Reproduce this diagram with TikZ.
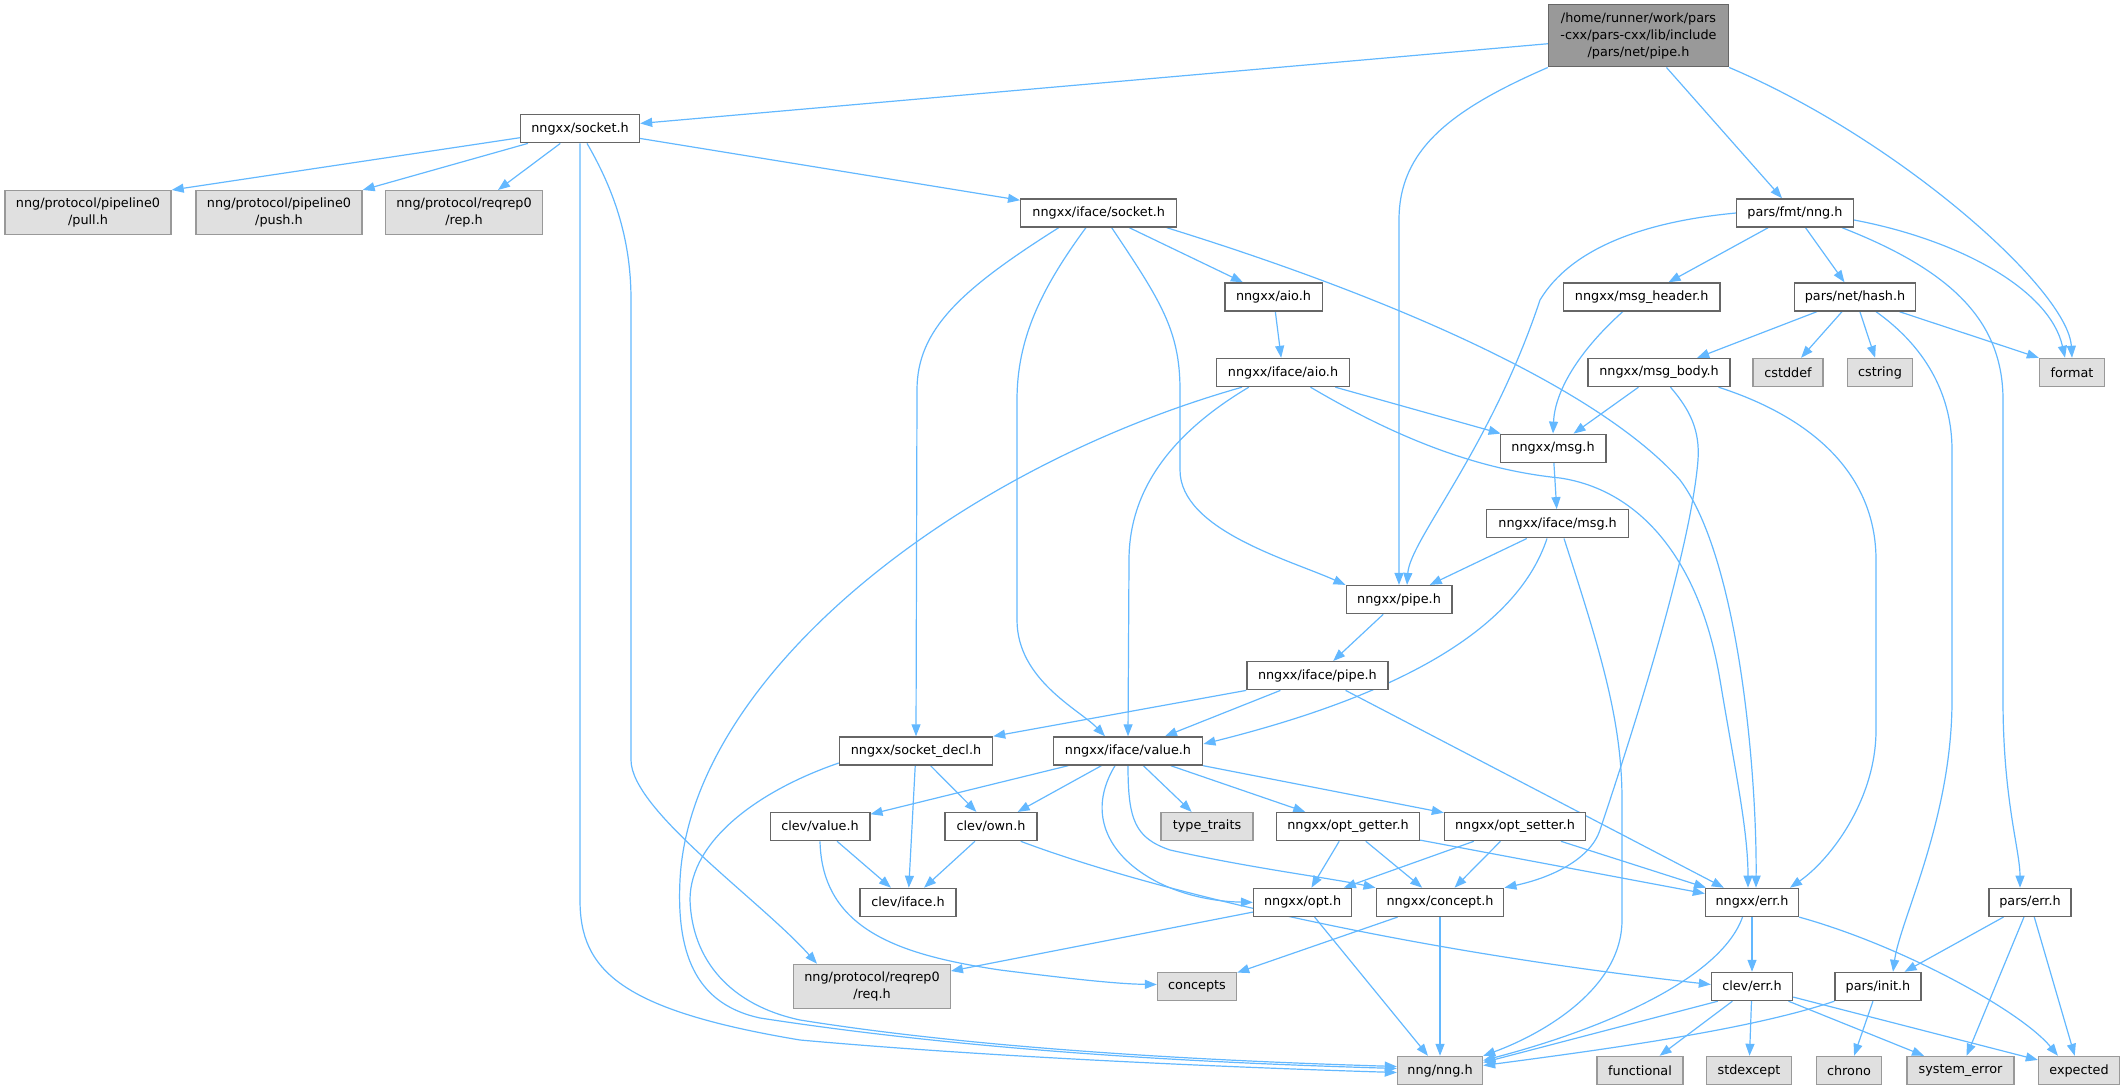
\documentclass[tikz,border=0pt]{standalone}
\usepackage{fontspec}
\setmainfont{DejaVu Sans}
\usetikzlibrary{arrows.meta}
\definecolor{edgec}{HTML}{63B8FF}
\definecolor{bordc}{HTML}{666666}
\definecolor{gbord}{HTML}{999999}
\definecolor{gfill}{HTML}{E0E0E0}
\definecolor{rfill}{HTML}{999999}
\pgfdeclarelayer{bg}
\pgfsetlayers{bg,main}
\begin{document}
\begin{tikzpicture}[x=0.5pt,y=-0.5pt,
  every node/.style={font=\fontsize{6.4pt}{8.5pt}\selectfont, inner sep=0pt, align=center},
  hn/.style={draw=bordc, fill=white, line width=0.7pt, minimum height=14pt},
  sn/.style={draw=gbord, fill=gfill, line width=0.7pt, minimum height=14pt},
  rn/.style={draw=bordc, fill=rfill, line width=0.7pt, minimum height=31pt},
  tall/.style={minimum height=22pt},
  dep/.style={draw=edgec, line width=0.6pt, -{Triangle[length=6pt,width=4.5pt]}}
]
\useasboundingbox (0,0) rectangle (2125,1090);

% nodes
\node[rn, minimum width=90pt] (root) at (1638.5,35.8) {/home/runner/work/pars\\-cxx/pars-cxx/lib/include\\/pars/net/pipe.h};
\node[hn, minimum width=59.5pt] (sock) at (580,128.7) {nngxx/socket.h};
\node[sn, tall, minimum width=83pt] (pull) at (88,212.7) {nng/protocol/pipeline0\\/pull.h};
\node[sn, tall, minimum width=83pt] (push) at (279,212.7) {nng/protocol/pipeline0\\/push.h};
\node[sn, tall, minimum width=78.25pt] (rep) at (464,212.7) {nng/protocol/reqrep0\\/rep.h};
\node[hn, minimum width=78pt] (ifsock) at (1098.7,213) {nngxx/iface/socket.h};
\node[hn, minimum width=58.25pt] (fmtnng) at (1795,213) {pars/fmt/nng.h};
\node[hn, minimum width=48.7pt] (aio) at (1273.5,297) {nngxx/aio.h};
\node[hn, minimum width=78.15pt] (msghdr) at (1641.7,297) {nngxx/msg\_header.h};
\node[hn, minimum width=60.65pt] (hash) at (1855,297) {pars/net/hash.h};
\node[hn, minimum width=66.5pt] (ifaio) at (1283,372.5) {nngxx/iface/aio.h};
\node[hn, minimum width=71pt] (msgbody) at (1659,372.5) {nngxx/msg\_body.h};
\node[sn, minimum width=35pt] (cstddef) at (1788,372.5) {cstddef};
\node[sn, minimum width=32.5pt] (cstring) at (1880,372.5) {cstring};
\node[sn, minimum width=32.5pt] (format) at (2072,372.5) {format};
\node[hn, minimum width=52.8pt] (msg) at (1553,448.3) {nngxx/msg.h};
\node[hn, minimum width=71pt] (ifmsg) at (1557.6,523.8) {nngxx/iface/msg.h};
\node[hn, minimum width=52.8pt] (pipe) at (1399,599.6) {nngxx/pipe.h};
\node[hn, minimum width=70.5pt] (ifpipe) at (1317.4,675.7) {nngxx/iface/pipe.h};
\node[hn, minimum width=76.5pt] (sockdecl) at (916,751) {nngxx/socket\_decl.h};
\node[hn, minimum width=74.75pt] (ifvalue) at (1128,751) {nngxx/iface/value.h};
\node[hn, minimum width=49.8pt] (clevvalue) at (820,826.6) {clev/value.h};
\node[hn, minimum width=46pt] (clevown) at (991,826.6) {clev/own.h};
\node[sn, minimum width=46pt] (typetraits) at (1207,826.6) {type\_traits};
\node[hn, minimum width=71.3pt] (optget) at (1348,826.6) {nngxx/opt\_getter.h};
\node[hn, minimum width=70.5pt] (optset) at (1515,826.6) {nngxx/opt\_setter.h};
\node[hn, minimum width=48pt] (clevif) at (908,902.4) {clev/iface.h};
\node[hn, minimum width=49pt] (opt) at (1302.6,902.4) {nngxx/opt.h};
\node[hn, minimum width=63.75pt] (concept) at (1440,902.4) {nngxx/concept.h};
\node[hn, minimum width=46.5pt] (err) at (1752,902.4) {nngxx/err.h};
\node[hn, minimum width=41pt] (parserr) at (2030,902.4) {pars/err.h};
\node[sn, tall, minimum width=78.25pt] (req) at (872,986.4) {nng/protocol/reqrep0\\/req.h};
\node[sn, minimum width=39.5pt] (concepts) at (1197,986.5) {concepts};
\node[hn, minimum width=40.5pt] (cleverr) at (1752,986.5) {clev/err.h};
\node[hn, minimum width=43pt] (parsinit) at (1878,986.5) {pars/init.h};
\node[sn, minimum width=42.5pt] (nng) at (1440,1070.5) {nng/nng.h};
\node[sn, minimum width=43pt] (functional) at (1640,1070.5) {functional};
\node[sn, minimum width=42.5pt] (stdexcept) at (1749,1070.5) {stdexcept};
\node[sn, minimum width=32.5pt] (chrono) at (1849,1070.5) {chrono};
\node[sn, minimum width=53.5pt] (syserr) at (1960.5,1070.5) {system\_error};
\node[sn, minimum width=40.5pt] (expected) at (2079,1070.5) {expected};

\begin{pgfonlayer}{bg}
% root
\draw[dep] (root) -- (sock);
\draw[dep] (root.south west) .. controls (1450,110) and (1399,150) .. (1399,220) -- (pipe.north);
\draw[dep] (root) -- (fmtnng);
\draw[dep] (root.south east) .. controls (1900,140) and (2068,290) .. (format.north);
% socket.h
\draw[dep] (sock) -- (pull.north east);
\draw[dep] (sock) -- (push.north east);
\draw[dep] (sock) -- ([xshift=17pt]rep.north);
\draw[dep] (sock) -- (ifsock);
\draw[dep] (sock.south) -- (580,900) .. controls (580,970) and (620,1010) .. (800,1040) .. controls (1000,1058) and (1250,1068) .. ([yshift=-1pt]nng.west);
\draw[dep] ([xshift=3.5pt]sock.south) .. controls (620,200) and (631,250) .. (631,300) -- (631,760) .. controls (631,810) and (760,900) .. ([xshift=-27.5pt]req.north);
% iface/socket.h
\draw[dep] ([xshift=-20pt]ifsock.south) .. controls (960,290) and (917,330) .. (917,390) -- (sockdecl.north);
\draw[dep] ([xshift=-6.4pt]ifsock.south) .. controls (1040,290) and (1017,340) .. (1017,400) -- (1017,620) .. controls (1017,680) and (1080,710) .. ([xshift=-11.5pt]ifvalue.north);
\draw[dep] ([xshift=6.5pt]ifsock.south) .. controls (1160,300) and (1180,330) .. (1180,390) -- (1180,470) .. controls (1180,530) and (1290,560) .. (pipe.north west);
\draw[dep] (ifsock) -- (aio);
\draw[dep] ([xshift=34pt]ifsock.south) .. controls (1400,300) and (1600,390) .. (1680,480) .. controls (1740,560) and (1757,780) .. ([xshift=2pt]err.north);
% aio
\draw[dep] (aio) -- (ifaio);
% fmt/nng.h
\draw[dep] (fmtnng.west) .. controls (1640,222) and (1570,250) .. (1540,300) .. controls (1490,450) and (1410,540) .. ([xshift=4pt]pipe.north);
\draw[dep] (fmtnng) -- (msghdr);
\draw[dep] (fmtnng) -- (hash);
\draw[dep] ([xshift=23.5pt]fmtnng.south) .. controls (1950,270) and (2003,320) .. (2003,400) -- (2003,700) .. controls (2003,800) and (2020,850) .. ([xshift=-5pt]parserr.north);
\draw[dep] ([yshift=-3.5pt]fmtnng.east) .. controls (1960,240) and (2050,290) .. ([xshift=-3.5pt]format.north);
% hash
\draw[dep] (hash) -- (msgbody);
\draw[dep] (hash) -- (cstddef);
\draw[dep] (hash) -- (cstring);
\draw[dep] ([xshift=10.5pt]hash.south) .. controls (1930,350) and (1952,400) .. (1952,450) -- (1952,700) .. controls (1952,820) and (1900,920) .. ([xshift=7.5pt]parsinit.north);
\draw[dep] (hash) -- (format.north west);
% msg_header, msg_body
\draw[dep] ([xshift=-9.5pt]msghdr.south) .. controls (1580,350) and (1555,390) .. (msg.north);
\draw[dep] (msgbody) -- (msg);
\draw[dep] ([xshift=5.75pt]msgbody.south) .. controls (1690,410) and (1700,430) .. (1698,460) .. controls (1690,560) and (1620,770) .. (1600,830) .. controls (1590,860) and (1550,878) .. (concept.north east);
\draw[dep] ([xshift=29.75pt]msgbody.south) .. controls (1820,420) and (1876,480) .. (1876,560) -- (1876,730) .. controls (1876,800) and (1830,860) .. ([xshift=19pt]err.north);
% iface/aio.h
\draw[dep] ([xshift=-17.1pt]ifaio.south) .. controls (1160,440) and (1129,500) .. (1129,560) -- (ifvalue.north);
\draw[dep] ([xshift=-20.5pt]ifaio.south) .. controls (950,470) and (690,680) .. (680,880) .. controls (676,960) and (700,1005) .. (760,1018) .. controls (1000,1055) and (1250,1064) .. ([yshift=1pt]nng.west);
\draw[dep] (ifaio) -- (msg);
\draw[dep] ([xshift=13.75pt]ifaio.south) .. controls (1400,440) and (1480,470) .. (1560,478) .. controls (1640,490) and (1700,560) .. (1720,680) .. controls (1735,770) and (1748,830) .. ([xshift=-2pt]err.north);
% msg, iface/msg
\draw[dep] (msg) -- (ifmsg);
\draw[dep] (ifmsg) -- (pipe);
\draw[dep] ([xshift=-5.3pt]ifmsg.south) .. controls (1520,620) and (1420,690) .. ([yshift=3.5pt]ifvalue.east);
\draw[dep] ([xshift=3.2pt]ifmsg.south) .. controls (1600,650) and (1622,720) .. (1622,800) -- (1622,920) .. controls (1622,990) and (1540,1035) .. (nng.north east);
% pipe, iface/pipe
\draw[dep] (pipe) -- (ifpipe);
\draw[dep] (ifpipe.south west) -- (sockdecl.north east);
\draw[dep] (ifpipe) -- (ifvalue);
\draw[dep] (ifpipe) -- (err);
% iface/value.h
\draw[dep] (ifvalue) -- (clevvalue);
\draw[dep] (ifvalue) -- (clevown);
\draw[dep] (ifvalue) -- (typetraits);
\draw[dep] (ifvalue) -- (optget);
\draw[dep] (ifvalue) -- (optset);
\draw[dep] ([xshift=-6.5pt]ifvalue.south) .. controls (1070,840) and (1150,900) .. (opt.west);
\draw[dep] (ifvalue.south) .. controls (1128,820) and (1135,838) .. (1170,850) .. controls (1250,868) and (1330,878) .. (concept.north west);
% socket_decl
\draw[dep] ([yshift=-6pt]sockdecl.west) .. controls (760,790) and (690,840) .. (690,900) .. controls (692,960) and (730,1005) .. (800,1020) .. controls (1000,1052) and (1250,1062) .. ([yshift=2pt]nng.west);
\draw[dep] (sockdecl) -- (clevown);
\draw[dep] (sockdecl) -- (clevif);
% clev
\draw[dep] (clevvalue) -- (clevif);
\draw[dep] (clevvalue.south) .. controls (822,930) and (900,955) .. (1000,970) .. controls (1080,980) and (1120,984) .. ([yshift=1pt]concepts.west);
\draw[dep] (clevown) -- (clevif);
\draw[dep] ([xshift=14.85pt]clevown.south) .. controls (1150,890) and (1400,950) .. ([yshift=1pt]cleverr.west);
% opt getter / setter
\draw[dep] (optget) -- (opt);
\draw[dep] (optget) -- (concept);
\draw[dep] (optget) -- (err);
\draw[dep] (optset) -- (opt);
\draw[dep] (optset) -- (concept);
\draw[dep] (optset) -- (err);
% opt, concept
\draw[dep] (opt) -- (req);
\draw[dep] (opt) -- (nng);
\draw[dep] (concept) -- (concepts);
\draw[dep] (concept) -- (nng);
% err
\draw[dep] (err) -- (cleverr);
\draw[dep] ([xshift=-4.75pt]err.south) .. controls (1720,980) and (1600,1030) .. ([yshift=5pt]nng.east);
\draw[dep] (err.south east) .. controls (1900,945) and (2020,1010) .. ([xshift=-10.5pt]expected.north);
% pars/err
\draw[dep] (parserr) -- (parsinit);
\draw[dep] (parserr) -- (syserr);
\draw[dep] (parserr) -- (expected);
% clev/err
\draw[dep] ([xshift=3.5pt]cleverr.south west) -- ([yshift=4pt]nng.east);
\draw[dep] (cleverr) -- (functional);
\draw[dep] (cleverr) -- (stdexcept);
\draw[dep] (cleverr) -- (syserr);
\draw[dep] (cleverr) -- (expected);
% pars/init
\draw[dep] (parsinit.south west) .. controls (1750,1030) and (1600,1050) .. ([yshift=2.5pt]nng.east);
\draw[dep] (parsinit) -- (chrono);
\end{pgfonlayer}
\end{tikzpicture}
\end{document}
